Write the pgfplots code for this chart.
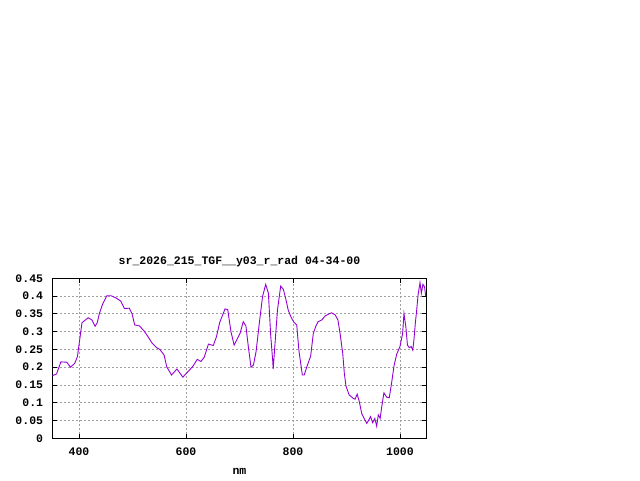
\documentclass[border=0pt]{standalone}
\usepackage{pgfplots}
\pgfplotsset{compat=1.18}
\usepackage{fontspec}
\setmainfont{Liberation Mono}
\definecolor{dv}{HTML}{9400D3}
\begin{document}
\begin{tikzpicture}[x=1pt,y=1pt]
\path[use as bounding box] (0,0) rectangle (640,480);
\begin{axis}[
  at={(52.3pt,41.7pt)}, anchor=south west,
  scale only axis, width=374.4pt, height=160pt,
  xmin=350, xmax=1050, ymin=0, ymax=0.45,
  xtick={400,600,800,1000},
  xticklabels={400,600,800,1000},
  ytick={0,0.05,0.1,0.15,0.2,0.25,0.3,0.35,0.4,0.45},
  yticklabels={0,0.05,0.1,0.15,0.2,0.25,0.3,0.35,0.4,0.45},
  /pgf/number format/assume math mode=true,
  font=\fontsize{11.5}{13}\selectfont\bfseries,
  tick align=inside, major tick length=4.5pt,
  tick style={black, line width=0.8pt},
  axis line style={black, line width=0.9pt},
  grid=major,
  major grid style={gray!75, line width=0.8pt, dash pattern=on 2pt off 2pt},
  xticklabel style={anchor=center, inner sep=0pt, yshift=-13.4pt},
  yticklabel style={anchor=east, inner sep=0pt, xshift=-9pt},
  title={sr\_2026\_215\_TGF\_\_y03\_r\_rad 04-34-00},
  title style={at={(axis description cs:0.5,1)}, anchor=center, inner sep=0pt, yshift=11pt},
  xlabel={nm},
  xlabel style={at={(axis description cs:0.5,0)}, anchor=center, inner sep=0pt, yshift=-32.7pt},
]
\addplot[dv, line width=0.9pt, mark=none] coordinates {
(350,0.176) (358,0.181) (366,0.215) (377,0.214) (384,0.200) (392,0.211) (397,0.230)
(402,0.286) (405.5,0.325) (417,0.339) (424,0.333) (430,0.315) (434,0.325) (438,0.351)
(444,0.377) (452,0.401) (460,0.401) (470,0.394) (478,0.386) (485,0.365) (494,0.366)
(499,0.351) (504,0.319) (513,0.316) (521,0.303) (528,0.288) (536,0.269) (545,0.255)
(551,0.250) (559,0.234) (564,0.201) (573,0.178) (583,0.195) (594,0.172) (604,0.188)
(613,0.203) (621,0.222) (628,0.216) (634,0.228) (642,0.265) (651,0.261) (657,0.286)
(663,0.326) (673,0.364) (678,0.362) (684,0.300) (690,0.262) (701,0.295) (707,0.328)
(712,0.316) (716.5,0.258) (721.5,0.200) (726,0.206) (731,0.244) (737,0.323) (743,0.398)
(749,0.433) (754,0.408) (758.5,0.286) (762,0.220) (763,0.195) (766,0.258) (771,0.361)
(777,0.428) (782,0.419) (787,0.389) (791,0.361) (796,0.342) (801,0.328) (807,0.319)
(811,0.248) (817.5,0.178) (821,0.178) (827,0.206) (833,0.231) (838,0.295) (843,0.316)
(847,0.328) (854,0.333) (860,0.344) (866,0.349) (872,0.353) (879,0.347) (884,0.333)
(888,0.295) (893,0.239) (896,0.183) (899,0.147) (905,0.122) (913,0.112) (916,0.110)
(920,0.124) (924,0.103) (928.5,0.070) (933,0.056) (938,0.042) (941.5,0.051) (945,0.061)
(949,0.044) (953,0.056) (956.5,0.034) (959.5,0.066) (963,0.056) (966,0.089) (970,0.128)
(975,0.116) (980,0.114) (984.5,0.157) (989,0.205) (994,0.237) (1000,0.258) (1005,0.295)
(1007.5,0.351) (1011,0.314) (1014,0.262) (1017.5,0.255) (1021,0.258) (1024,0.248)
(1026,0.275) (1029,0.328) (1031,0.356) (1034,0.405) (1037.5,0.438) (1040,0.408)
(1043,0.433) (1046,0.426) (1048,0.401) (1049,0.401)
};
\end{axis}
\end{tikzpicture}
\end{document}
